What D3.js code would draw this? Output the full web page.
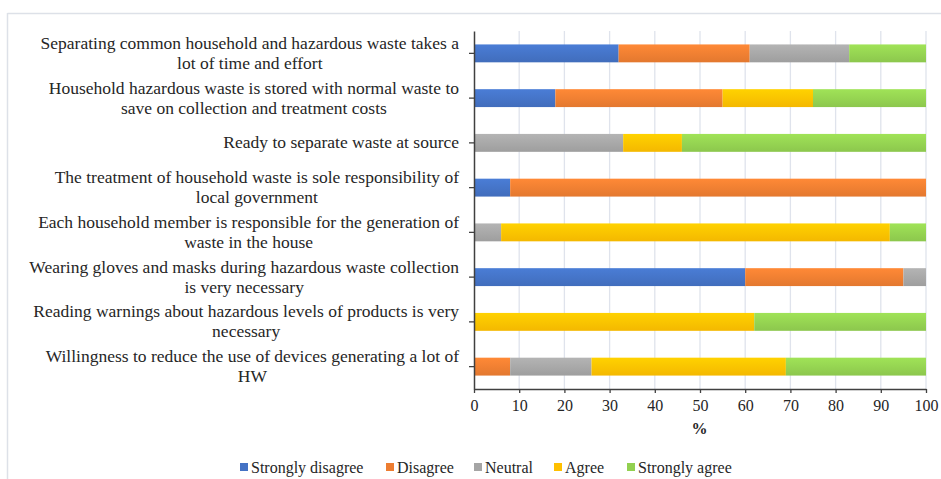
<!DOCTYPE html>
<html>
<head>
<meta charset="utf-8">
<script src="https://cdn.jsdelivr.net/npm/d3@7"></script>
<style>
  html, body { margin: 0; padding: 0; background: #fff; }
  svg { display: block; }
</style>
</head>
<body>
<svg id="chart" width="941" height="479"></svg>
<script>
const categories = [
  "Separating common household and hazardous waste takes a|lot of time and effort",
  "Household hazardous waste is stored with normal waste to|save on collection and treatment costs",
  "Ready to separate waste at source",
  "The treatment of household waste is sole responsibility of|local government",
  "Each household member is responsible for the generation of|waste in the house",
  "Wearing gloves and masks during hazardous waste collection|is very necessary",
  "Reading warnings about hazardous levels of products is very|necessary",
  "Willingness to reduce the use of devices generating a lot of|HW"
];
const seriesNames = ["Strongly disagree", "Disagree", "Neutral", "Agree", "Strongly agree"];
const stronglyDisagree = [32, 18, 0, 8, 0, 60, 0, 0];
const disagree         = [29, 37, 0, 92, 0, 35, 0, 8];
const neutral          = [22, 0, 33, 0, 6, 5, 0, 18];
const agree            = [0, 20, 13, 0, 86, 0, 62, 43];
const stronglyAgree    = [17, 25, 54, 0, 8, 0, 38, 31];
const xTicks = [0, 10, 20, 30, 40, 50, 60, 70, 80, 90, 100];
const colors = ["#4472C4", "#ED7D31", "#A5A5A5", "#FFC000", "#92D050"];

(function () {
const FONT = '"Liberation Serif"';
const TXT = "#262626";
const seriesValues = [stronglyDisagree, disagree, neutral, agree, stronglyAgree];
const rows = categories.map((c, i) => {
  const r = { cat: c };
  seriesNames.forEach((s, j) => r[s] = seriesValues[j][i]);
  return r;
});

const svg = d3.select("#chart");
const W = 941, H = 479;
const pLeft = 474, pRight = 926, pTop = 31, pBottom = 389;

// outer frame (light border)
svg.append("line").attr("x1", 7.5).attr("x2", 7.5).attr("y1", 13).attr("y2", H)
  .attr("stroke", "#dde1e8").attr("stroke-width", 1.5);
svg.append("line").attr("x1", 7.5).attr("x2", W).attr("y1", 13.5).attr("y2", 13.5)
  .attr("stroke", "#dde1e8").attr("stroke-width", 1.5);

const x = d3.scaleLinear().domain([0, 100]).range([pLeft, pRight]);
const y = d3.scaleBand().domain(categories).range([pTop, pBottom]).paddingInner(0.6).paddingOuter(0.3);

// gridlines
svg.append("g").selectAll("line").data(xTicks.slice(1)).join("line")
  .attr("x1", d => x(d)).attr("x2", d => x(d))
  .attr("y1", pTop).attr("y2", pBottom)
  .attr("stroke", "#dfe3ec").attr("stroke-width", 1.3);

// gradients
const defs = svg.append("defs");
colors.forEach((c, i) => {
  const g = defs.append("linearGradient").attr("id", "g" + i)
    .attr("x1", 0).attr("x2", 0).attr("y1", 0).attr("y2", 1);
  g.append("stop").attr("offset", "0%").attr("stop-color", d3.color(c).brighter(0.25));
  g.append("stop").attr("offset", "100%").attr("stop-color", d3.color(c).darker(0.12));
});

const stack = d3.stack().keys(seriesNames)(rows);
svg.append("g").selectAll("g").data(stack).join("g")
  .attr("fill", (d, i) => "url(#g" + i + ")")
  .selectAll("rect").data(d => d.filter(p => p[1] - p[0] > 0)).join("rect")
  .attr("x", d => x(d[0]))
  .attr("width", d => x(d[1]) - x(d[0]))
  .attr("y", d => y(d.data.cat))
  .attr("height", y.bandwidth());

// x axis
const xAxis = d3.axisBottom(x).tickValues(xTicks).tickSize(4).tickSizeOuter(0).tickPadding(7);
const gx = svg.append("g").attr("transform", `translate(0,${pBottom})`).call(xAxis);
gx.attr("font-family", null).attr("font-size", null);
gx.select(".domain").attr("stroke", "#404040").attr("stroke-width", 1.5);
gx.selectAll(".tick line").attr("stroke", "#404040").attr("stroke-width", 1.3);
gx.selectAll("text").attr("fill", TXT).attr("font-family", FONT).attr("font-size", 16);

// y axis
const yAxis = d3.axisLeft(y).tickSize(5).tickSizeOuter(0).tickFormat("");
const gy = svg.append("g").attr("transform", `translate(${pLeft},0)`).call(yAxis);
gy.select(".domain").attr("stroke", "#404040").attr("stroke-width", 1.5);
gy.selectAll(".tick line").attr("stroke", "#404040").attr("stroke-width", 1.3);

// category labels (Excel-style: block right-aligned, lines centered within block)
const labelRight = 459;
const fs = 17.5;
const lineH = 20;
const lg = svg.append("g");
categories.forEach(c => {
  const lines = c.split("|");
  const cy = y(c) + y.bandwidth() / 2;
  const t = lg.append("text").attr("font-family", FONT).attr("font-size", fs).attr("fill", TXT)
    .attr("text-anchor", "middle");
  const spans = lines.map(l => t.append("tspan").text(l));
  const maxW = d3.max(spans, s => s.node().getComputedTextLength());
  const cx = labelRight - maxW / 2;
  const y0 = cy + 5.5 - (lines.length - 1) * lineH / 2;
  spans.forEach((s, k) => s.attr("x", cx).attr("y", y0 + k * lineH));
});

// x axis title
svg.append("text").attr("x", (pLeft + pRight) / 2 - 0.5).attr("y", 434)
  .attr("text-anchor", "middle").attr("font-family", FONT).attr("font-size", 16)
  .attr("font-weight", "bold").attr("fill", TXT).text("%");

// legend
const legendX = [240, 386, 474, 554, 627];
const lgd = svg.append("g");
seriesNames.forEach((s, i) => {
  lgd.append("rect").attr("x", legendX[i]).attr("y", 463).attr("width", 8).attr("height", 8).attr("fill", colors[i]);
  lgd.append("text").attr("x", legendX[i] + 11).attr("y", 472.5)
    .attr("font-family", FONT).attr("font-size", 16).attr("fill", TXT).text(s);
});
})();
</script>
</body>
</html>
